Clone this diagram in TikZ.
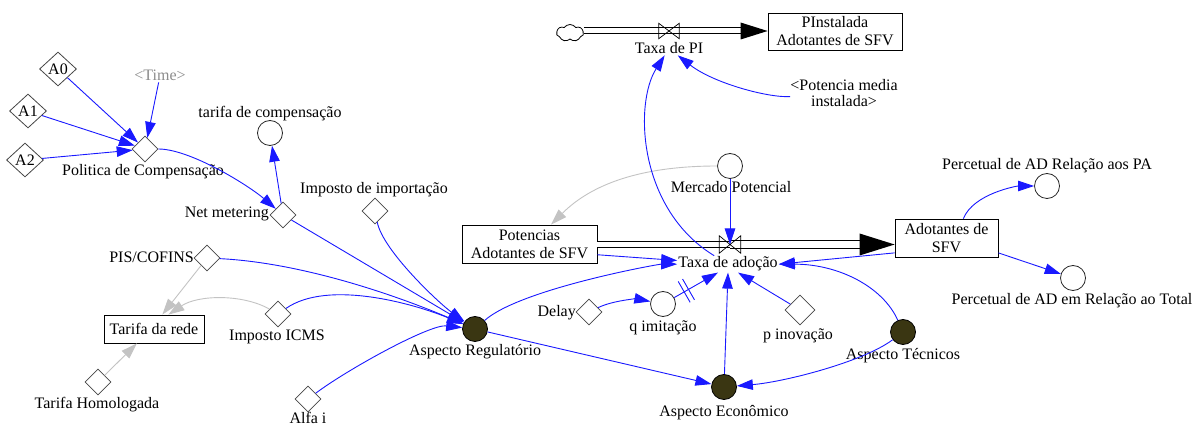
\documentclass[tikz,border=0pt]{standalone}
\usepackage{fontspec}
\setmainfont{Liberation Serif}
\usetikzlibrary{arrows.meta,shapes.geometric,shapes.symbols,decorations.markings}

\definecolor{linkblue}{RGB}{25,25,255}
\definecolor{linkgray}{RGB}{195,195,195}
\definecolor{aspfill}{RGB}{58,54,18}
\definecolor{auxline}{RGB}{70,70,70}
\definecolor{shadowtext}{RGB}{140,140,140}

\begin{document}
\begin{tikzpicture}[x=1pt,y=-1pt,
  every node/.style={font=\fontsize{16}{18}\selectfont, inner sep=1pt},
  lbl/.style={anchor=base},
  aux/.style={diamond, draw=auxline, line width=0.8pt, fill=white,
    minimum width=26pt, minimum height=26pt, inner sep=0pt},
  const/.style={aux, minimum width=37pt, minimum height=34pt},
  var/.style={circle, draw=black!85, line width=0.8pt, fill=white,
    minimum size=25pt, inner sep=0pt},
  asp/.style={var, fill=aspfill, draw=black},
  stock/.style={rectangle, draw=black, line width=0.8pt, fill=white,
    align=center, inner sep=0pt},
  valve/.style={minimum width=21pt, minimum height=17pt, inner sep=0pt},
  link/.style={draw=linkblue, line width=0.9pt, -{Triangle[length=16pt,width=10.5pt]}},
  glink/.style={link, draw=linkgray},
  pipe/.style={draw=black, double=white, line width=1pt},
  hashmark/.style={postaction={decorate}, decoration={markings,
    mark=at position #1 with {\draw[-, linkblue, line width=0.9pt]
      (-2.5pt,-12pt) -- (-2.5pt,12pt) (2.5pt,-12pt) -- (2.5pt,12pt);}}}
]
\useasboundingbox (0,0) rectangle (1202,427);

% ---------- stocks, rates and the source cloud ----------
\node[cloud, draw=black, line width=0.8pt, cloud puffs=7, cloud puff arc=110,
  aspect=1.8, minimum width=27pt, minimum height=17pt, inner sep=0pt] (src) at (570,33) {};
\node[stock, minimum width=134pt, minimum height=37pt] (pinst) at (835,31.5)
  {PInstalada\\Adotantes de SFV};
\node[valve, minimum width=20pt, minimum height=15pt] (v2) at (669,31) {};
\node[lbl] (tpil) at (669,54) {Taxa de PI};
\node[align=center, inner sep=0pt] (potmed) at (844,93) {<Potencia media\\[-2pt]instalada>};

\node[stock, minimum width=135pt, minimum height=38pt] (pot) at (529.5,244)
  {Potencias\\Adotantes de SFV};
\node[stock, minimum width=103pt, minimum height=38pt] (adot) at (946.5,238)
  {Adotantes de\\SFV};
\node[valve] (v1) at (730,244.5) {};
\node[lbl] (txl) at (728,268) {Taxa de adoção};

% ---------- policy side ----------
\node[const] (a0) at (58,69) {A0};
\node[const] (a1) at (28,111) {A1};
\node[const] (a2) at (25,160) {A2};
\node[lbl, text=shadowtext] (time) at (160,81) {<Time>};
\node[aux] (pol) at (145,149) {};
\node[lbl] (pol-l) at (143,176) {Politica de Compensação};
\node[lbl] (tc-l) at (270,118) {tarifa de compensação};
\node[var] (tc) at (270,133) {};
\node[aux] (nm) at (283,215) {};
\node[lbl, anchor=base east] (nm-l) at (270,218) {Net metering};
\node[lbl] (ii-l) at (374,194) {Imposto de importação};
\node[aux] (ii) at (375,211) {};
\node[aux] (pis) at (207,258) {};
\node[lbl, anchor=base east] (pis-l) at (195,263) {PIS/COFINS};
\node[stock, minimum width=100pt, minimum height=28pt] (tr) at (154,329) {Tarifa da rede};
\node[aux] (icms) at (278,314) {};
\node[lbl] (icms-l) at (277,341) {Imposto ICMS};
\node[aux] (th) at (98,382) {};
\node[lbl] (th-l) at (97,408) {Tarifa Homologada};
\node[aux] (alfa) at (308,399) {};
\node[lbl] (alfa-l) at (308,424) {Alfa i};
\node[asp] (ar) at (475,329) {};
\node[lbl] (ar-l) at (475,356) {Aspecto Regulatório};

% ---------- adoption side ----------
\node[var] (mkt) at (730,166) {};
\node[lbl] (mkt-l) at (731,193) {Mercado Potencial};
\node[aux] (delay) at (589,312) {};
\node[lbl, anchor=base east] (delay-l) at (577,317) {Delay};
\node[var] (qi) at (663,304) {};
\node[lbl] (qi-l) at (663,332) {q imitação};
\node[aux, minimum width=30pt, minimum height=30pt] (pi) at (800,310) {};
\node[lbl] (pi-l) at (798,340) {p inovação};
\node[asp] (at) at (903,332) {};
\node[lbl] (at-l) at (903,360) {Aspecto Técnicos};
\node[asp] (ae) at (724,387) {};
\node[lbl] (ae-l) at (724,417) {Aspecto Econômico};
\node[lbl] (pa-l) at (1047,170) {Percetual de AD Relação aos PA};
\node[var] (pa) at (1047,186) {};
\node[var] (tot) at (1073,278) {};
\node[lbl] (tot-l) at (1072,305) {Percetual de AD em Relação ao Total};

% ---------- flow pipes ----------
\draw[pipe, double distance=5pt] (src.east |- v2.center) -- (v2.center);
\draw[pipe, double distance=5pt, shorten >=25pt] (v2.center) -- (v2.center -| pinst.west);
\fill (v2.center -| pinst.west) -- ++(-27,-8.5) -- ++(0,17) -- cycle;
\draw[line width=0.7pt] (v2.north west) -- (v2.south east) -- (v2.north east)
  -- (v2.south west) -- cycle;

\draw[pipe, double distance=5.5pt] (v1.center -| pot.east) -- (v1.center);
\draw[pipe, double distance=7pt, shorten >=32pt] (v1.center) -- (v1.center -| adot.west);
\fill (v1.center -| adot.west) -- ++(-35,-11) -- ++(0,22) -- cycle;
\draw[line width=0.7pt] (v1.north west) -- (v1.south east) -- (v1.north east)
  -- (v1.south west) -- cycle;

% ---------- links on the policy side ----------
\draw[link] (a0) -- (pol);
\draw[link] (time) -- (pol);
\draw[link] (a1) -- (pol);
\draw[link] (a2) -- (pol);
\draw[link] (pol) .. controls +(45,0) and +(-35,-30) .. (nm);
\draw[link] (nm) -- (tc);
\draw[link] (nm) -- (ar);
\draw[link] (ii) .. controls +(8,40) and +(-35,-25) .. (ar);
\draw[link] (pis) .. controls +(100,5) and +(-70,-30) .. (ar);
\draw[link] (icms) .. controls +(50,-35) and +(-60,-25) .. (ar);
\draw[link] (alfa) .. controls +(40,-30) and +(-45,-5) .. (ar);
\draw[glink] (pis) -- (tr.60);
\draw[glink] (icms) .. controls +(-35,-20) and +(30,-20) .. (tr.45);
\draw[glink] (th) -- (tr.-140);

% ---------- links on the adoption side ----------
\draw[link] (mkt) -- (v1.center);
\draw[glink] (mkt) .. controls +(-90,0) and +(40,-40) .. (pot.42);
\draw[link] (pot.-9) -- (txl);
\draw[link] (ar) .. controls +(45,-40) and +(-70,0) .. (txl);
\draw[link] (ar) -- (ae);
\draw[link] (delay) .. controls +(25,-12) and +(-25,-5) .. (qi);
\draw[link, hashmark=14pt] (qi) -- (txl.-140);
\draw[link] (pi) -- (txl.-40);
\draw[link] (ae) -- (txl.south);
\draw[link] (at) .. controls +(-20,-45) and +(60,0) .. (txl.east);
\draw[link] (adot.-164) -- (txl.east);
\draw[link] (at) .. controls +(-40,30) and +(60,-5) .. (ae);
\draw[link] (txl) .. controls +(-90,-55) and +(-35,55) .. (tpil);
\draw[link] (potmed) .. controls +(-75,5) and +(45,35) .. (tpil);
\draw[link] (adot.49) .. controls +(10,-25) and +(-30,0) .. (pa);
\draw[link] (adot.-16) -- (tot);
\end{tikzpicture}
\end{document}
